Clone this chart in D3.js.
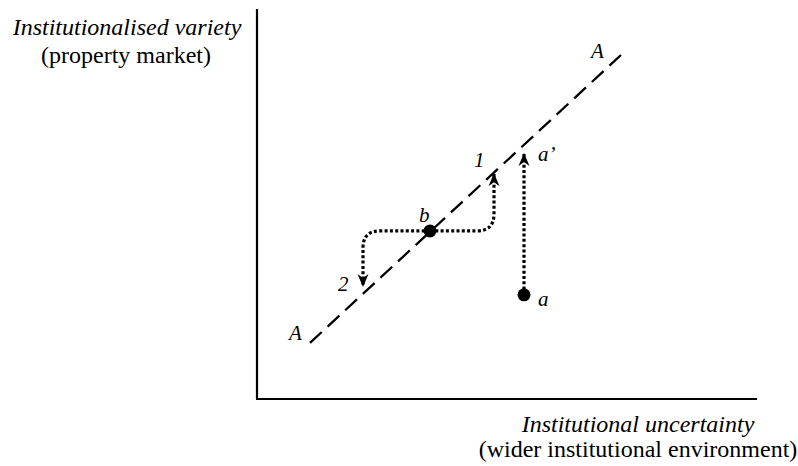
<!DOCTYPE html>
<html><head><meta charset="utf-8">
<script src="https://cdn.jsdelivr.net/npm/d3@7"></script>
<style>body{margin:0;background:#fff}text{font-family:"Liberation Serif","Times New Roman",serif;fill:#000}</style>
</head><body><svg id="c" width="798" height="466"></svg>
<script>
// Data (abstract 0-100 coordinates)
const lineA = [[10.6,14.4],[72.8,88.2]];
const pointNames = ["a","b"];
const pointX = [53.4, 34.6];
const pointY = [26.7, 43.1];
// arrows: start point, tip point (bend at tip x when they differ)
const arrowNames = ["a'", "1", "2"];
const arrowStartX = [53.4, 34.6, 34.6];
const arrowStartY = [26.7, 43.1, 43.1];
const arrowTipX = [53.4, 47.4, 21.2];
const arrowTipY = [63.1, 57.9, 28.7];
const axisLabelsY = ["Institutionalised variety", "(property market)"];
const axisLabelsX = ["Institutional uncertainty", "(wider institutional environment)"];

const svg = d3.select("#c");
const x = d3.scaleLinear().domain([0,100]).range([257,757]);
const y = d3.scaleLinear().domain([0,100]).range([399,9]);

svg.append("defs").append("marker")
  .attr("id","arr").attr("markerUnits","userSpaceOnUse")
  .attr("viewBox","0 -7 14 14").attr("refX",13).attr("refY",0)
  .attr("markerWidth",14).attr("markerHeight",14).attr("orient","auto")
  .append("path").attr("d","M0,-5.5 L13,0 L0,5.5 L4,0 Z").attr("fill","#000");

// axes
svg.append("line").attr("x1",x(0)).attr("x2",x(0)).attr("y1",y(100)).attr("y2",y(0))
  .attr("stroke","#000").attr("stroke-width",2.2);
svg.append("line").attr("x1",x(0)-1).attr("x2",x(100)).attr("y1",y(0)).attr("y2",y(0))
  .attr("stroke","#000").attr("stroke-width",2.2);

// dashed line A
svg.append("path").attr("d", d3.line().x(d=>x(d[0])).y(d=>y(d[1]))(lineA))
  .attr("stroke","#000").attr("stroke-width",2.3).attr("fill","none")
  .attr("stroke-dasharray","16,8");

// arrows
const r = 17;
arrowNames.forEach((n,i)=>{
  const sx = x(arrowStartX[i]), sy = y(arrowStartY[i]);
  const tx = x(arrowTipX[i]), ty = y(arrowTipY[i]);
  const p = d3.path();
  p.moveTo(sx, sy);
  if (Math.abs(tx - sx) > 1) {
    const dir = Math.sign(tx - sx), vdir = Math.sign(ty - sy);
    p.lineTo(tx - dir*r, sy);
    p.quadraticCurveTo(tx, sy, tx, sy + vdir*r);
  }
  p.lineTo(tx, ty);
  svg.append("path").attr("d", p.toString()).attr("fill","none")
    .attr("stroke","#000").attr("stroke-width",3.2).attr("stroke-dasharray","3,2.3")
    .attr("marker-end","url(#arr)");
});

// points
svg.selectAll("circle.pt").data(pointNames).enter().append("circle")
  .attr("cx",(d,i)=>x(pointX[i])).attr("cy",(d,i)=>y(pointY[i])).attr("r",6.5).attr("fill","#000");

// labels
const lab = (t,px,py,anchor="start",italic=true,size=21)=>svg.append("text").text(t)
  .attr("x",px).attr("y",py).attr("text-anchor",anchor)
  .style("font-style",italic?"italic":"normal").style("font-size",size+"px");

lab("A", x(lineA[1][0])-30, y(lineA[1][1])+3);
lab("A", x(lineA[0][0])-21, y(lineA[0][1])-3);
lab("a", x(pointX[0])+14, y(pointY[0])+11);
lab("b", x(pointX[1])-11, y(pointY[1])-9);
lab("a\u2019", x(arrowTipX[0])+14, y(arrowTipY[0])+8);
lab("1", x(arrowTipX[1])-20, y(arrowTipY[1])-6);
lab("2", x(arrowTipX[2])-25, y(arrowTipY[2])+4);

lab(axisLabelsY[0], 127, 35, "middle", true, 24);
lab(axisLabelsY[1], 126, 63, "middle", false, 24);
lab(axisLabelsX[0], 638, 432, "middle", true, 24);
lab(axisLabelsX[1], 638, 457, "middle", false, 24);
</script></body></html>
